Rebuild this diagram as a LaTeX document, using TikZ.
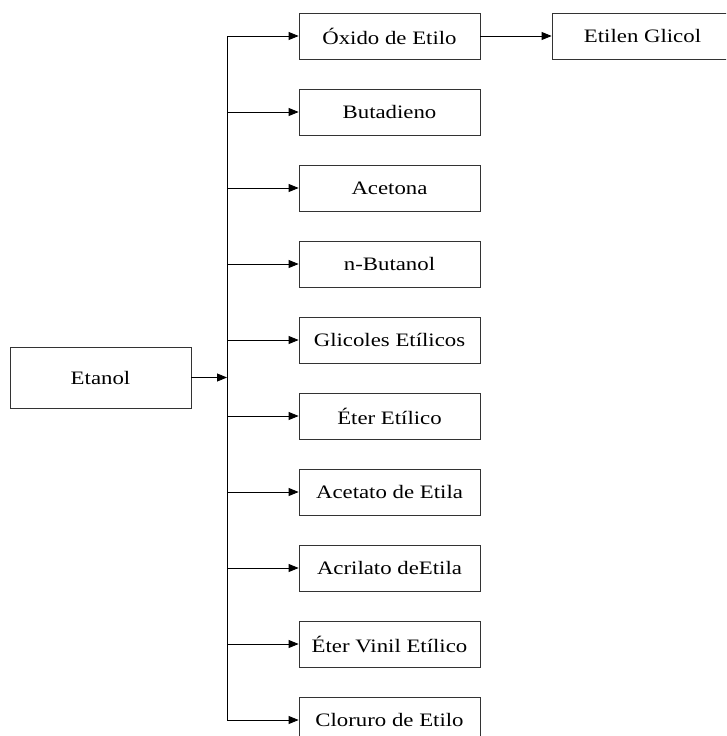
\documentclass[tikz,border=0pt]{standalone}
\usepackage{fontspec}
\setmainfont{Liberation Serif}
\usepackage{graphicx}
\usetikzlibrary{positioning, arrows.meta}
\newcommand{\wide}[1]{\scalebox{1.2}[1]{#1}}
\tikzstyle{block} = [rectangle, minimum width=181pt, minimum height=46pt, inner sep=0pt, text centered, draw=black!80, line width=0.8pt, font=\fontsize{19}{22}\selectfont]
\tikzstyle{arrow} = [line width=0.8pt, -{Triangle[length=10pt,width=8pt]}]

\begin{document}
\begin{tikzpicture}[x=1pt, y=-1pt, node distance=76pt]
        \clip (0,0) rectangle (726,736);
        \node (etanol) [block, minimum height=61pt] at (100.5,377.5) {\wide{Etanol}};
        \node (oxido) [block] at (389.5,36) {\wide{Óxido de Etilo}};
        \node (glicol) [block] at (642.5,36) {\wide{Etilen Glicol}};
        \node (butadieno) [block, below of=oxido] {\wide{Butadieno}};
        \node (acetona) [block, below of=butadieno] {\wide{Acetona}};
        \node (butanol) [block, below of=acetona] {\wide{n-Butanol}};
        \node (glicoles) [block, below of=butanol] {\wide{Glicoles Etílicos}};
        \node (eter) [block, below of=glicoles] {\wide{Éter Etílico}};
        \node (acetato) [block, below of=eter] {\wide{Acetato de Etila}};
        \node (acrilato) [block, below of=acetato] {\wide{Acrilato deEtila}};
        \node (vinil) [block, below of=acrilato] {\wide{Éter Vinil Etílico}};
        \node (cloruro) [block, below of=vinil] {\wide{Cloruro de Etilo}};
        % bus
        \coordinate (bus) at (227,377.5);
        \draw [line width=0.8pt] (oxido.west -| bus) -- (cloruro.west -| bus);
        \draw [arrow] (etanol.east) -- (bus);
        \foreach \n in {oxido, butadieno, acetona, butanol, glicoles, eter, acetato, acrilato, vinil, cloruro}
            \draw [arrow] (\n.west -| bus) -- (\n.west);
        \draw [arrow] (oxido.east) -- (glicol.west);
    \end{tikzpicture}
\end{document}
